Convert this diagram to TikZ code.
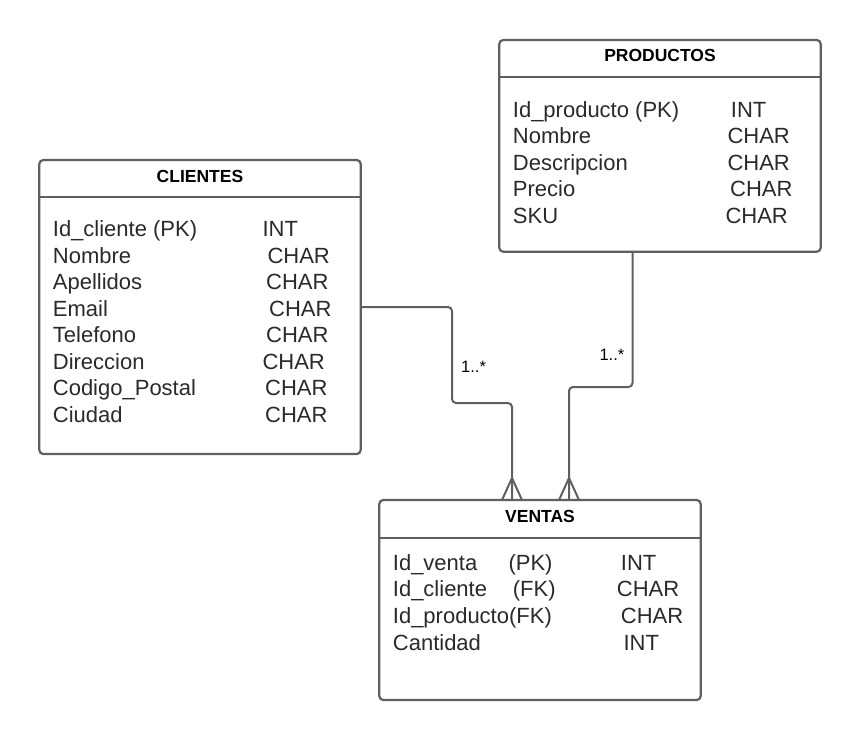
\documentclass[tikz,border=0pt]{standalone}
\usepackage{fontspec}
\setmainfont{Liberation Sans}
\definecolor{edge}{HTML}{5F5F5F}
\definecolor{txt}{HTML}{2A2A2A}
\tikzset{
  tbl/.style={draw=edge, line width=2.2pt, rounded corners=4pt, fill=white, inner sep=0pt},
  hdr/.style={draw=edge, line width=2.2pt},
  ttl/.style={anchor=base, inner sep=0pt, font=\fontsize{17.5}{20}\selectfont\bfseries, text=black},
  fld/.style={anchor=base west, inner sep=0pt, font=\fontsize{22}{25}\selectfont, text=txt},
  conn/.style={draw=edge, line width=2pt, rounded corners=4pt},
  crow/.style={draw=edge, line width=2pt},
  mult/.style={anchor=base west, inner sep=0pt, font=\fontsize{16.5}{19}\selectfont, text=black}
}
\begin{document}
\begin{tikzpicture}[x=1pt,y=-1pt]
\useasboundingbox (0,0) rectangle (860,740);
% CLIENTES
\node[tbl, minimum width=321.4pt, minimum height=294pt] (cli) at (200,307) {};
\draw[hdr] (cli.west |- 0,196.7) -- (cli.east |- 0,196.7);
\node[ttl] (clit) at (200,182.3) {CLIENTES};
\node[fld] (c1) at (52.7,236.5) {Id\_cliente (PK)};
\node[fld] (c2) at (52.7,263) {Nombre};
\node[fld] (c3) at (52.7,289.5) {Apellidos};
\node[fld] (c4) at (52.7,316) {Email};
\node[fld] (c5) at (52.7,342.5) {Telefono};
\node[fld] (c6) at (52.7,369) {Direccion};
\node[fld] (c7) at (52.7,395.5) {Codigo\_Postal};
\node[fld] (c8) at (52.7,422) {Ciudad};
\node[fld] (ct1) at (262.3,236.5) {INT};
\node[fld] (ct2) at (267.3,263) {CHAR};
\node[fld] (ct3) at (266,289.5) {CHAR};
\node[fld] (ct4) at (269,316) {CHAR};
\node[fld] (ct5) at (266,342.5) {CHAR};
\node[fld] (ct6) at (262.3,369) {CHAR};
\node[fld] (ct7) at (265,395.5) {CHAR};
\node[fld] (ct8) at (265,422) {CHAR};
% PRODUCTOS
\node[tbl, minimum width=321.4pt, minimum height=211.7pt] (pro) at (660,145.85) {};
\draw[hdr] (pro.west |- 0,76.7) -- (pro.east |- 0,76.7);
\node[ttl] (prot) at (660,61.7) {PRODUCTOS};
\node[fld] (p1) at (512.7,117.3) {Id\_producto (PK)};
\node[fld] (p2) at (512.7,143.8) {Nombre};
\node[fld] (p3) at (512.7,170.3) {Descripcion};
\node[fld] (p4) at (512.7,196.8) {Precio};
\node[fld] (p5) at (512.7,223.3) {SKU};
\node[fld] (pt1) at (730.7,117.3) {INT};
\node[fld] (pt2) at (727.3,143.8) {CHAR};
\node[fld] (pt3) at (727.3,170.3) {CHAR};
\node[fld] (pt4) at (730,196.8) {CHAR};
\node[fld] (pt5) at (725.3,223.3) {CHAR};
% VENTAS
\node[tbl, minimum width=321.4pt, minimum height=200pt] (ven) at (540,600) {};
\draw[hdr] (ven.west |- 0,537.7) -- (ven.east |- 0,537.7);
\node[ttl] (vent) at (540,522.3) {VENTAS};
\node[fld] (v1) at (392.7,570) {Id\_venta};
\node[fld] (v2) at (392.7,596.7) {Id\_cliente};
\node[fld] (v3) at (392.7,623.3) {Id\_producto(FK)};
\node[fld] (v4) at (392.7,650) {Cantidad};
\node[fld] (vk1) at (508.3,570) {(PK)};
\node[fld] (vk2) at (512.7,596.7) {(FK)};
\node[fld] (vt1) at (620.7,570) {INT};
\node[fld] (vt2) at (616.7,596.7) {CHAR};
\node[fld] (vt3) at (620.7,623.3) {CHAR};
\node[fld] (vt4) at (623.3,650) {INT};
% connectors
\coordinate (a1) at (512,500);
\coordinate (b0) at (632.5,251.7);
\coordinate (b1) at (569,500);
\draw[conn] (cli.east) -- (452,307) -- (452,403) -- (512,403) -- (a1);
\draw[conn] (b0) -- (632.5,387) -- (569,387) -- (b1);
\draw[crow] (502,500) -- (512,478) -- (522,500);
\draw[crow] (559,500) -- (569,478) -- (579,500);
\node[mult] (m1) at (461,372.7) {1..*};
\node[mult] (m2) at (599.3,360.7) {1..*};
\end{tikzpicture}
\end{document}
